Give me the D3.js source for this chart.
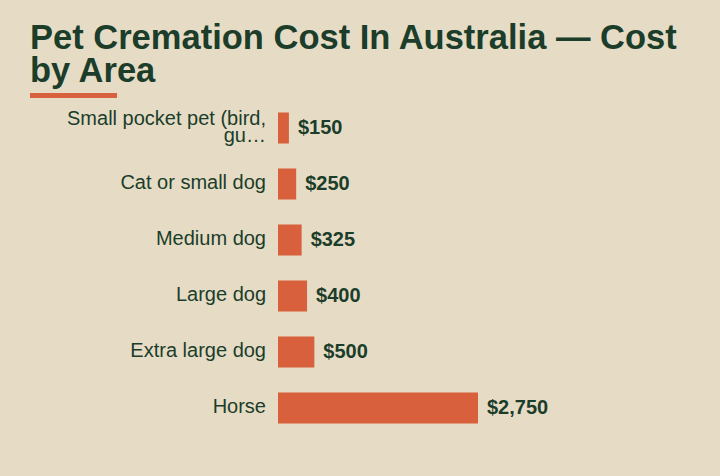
<!DOCTYPE html>
<html>
<head>
<meta charset="utf-8">
<script src="https://cdn.jsdelivr.net/npm/d3@7"></script>
<style>
  html, body { margin: 0; padding: 0; background: #e6dcc6; }
  svg { display: block; font-family: "Liberation Sans", Arial, sans-serif; }
</style>
</head>
<body>
<div id="chart"></div>
<script>
/* DATA */
const categories = [
  "Small pocket pet (bird, guinea pig)",
  "Cat or small dog",
  "Medium dog",
  "Large dog",
  "Extra large dog",
  "Horse"
];
const costs = [150, 250, 325, 400, 500, 2750];
const titleLines = ["Pet Cremation Cost In Australia \u2014 Cost", "by Area"];

/* CONSTANTS */
const width = 720,
  height = 476,
  margin = { top: 100, left: 278, right: 242, bottom: 24 };
const ink = "#1b3d2a",
  accent = "#d9603d";

const svg = d3.select("#chart")
  .append("svg")
  .attr("width", width)
  .attr("height", height);

svg.append("rect")
  .attr("width", width)
  .attr("height", height)
  .attr("fill", "#e6dcc6");

// title
svg.append("text")
  .attr("x", 30)
  .attr("y", 49)
  .attr("fill", ink)
  .attr("font-size", 34.5)
  .attr("font-weight", "bold")
  .selectAll("tspan")
  .data(titleLines)
  .join("tspan")
  .attr("x", 30)
  .attr("dy", (d, i) => i === 0 ? 0 : 33)
  .text(d => d);

svg.append("rect")
  .attr("x", 30)
  .attr("y", 93)
  .attr("width", 87)
  .attr("height", 5)
  .attr("fill", accent);

// scales
const xScale = d3.scaleLinear()
  .domain([0, d3.max(costs)])
  .range([margin.left, width - margin.right]);

const yScale = d3.scaleBand()
  .domain(categories)
  .range([margin.top, margin.top + 56 * categories.length])
  .paddingInner(0.446)
  .paddingOuter(0.223);

const rows = categories.map((c, i) => ({ name: c, cost: costs[i] }));

// bars
svg.selectAll("rect.bar")
  .data(rows)
  .join("rect")
  .attr("class", "bar")
  .attr("x", xScale(0))
  .attr("y", d => yScale(d.name))
  .attr("width", d => xScale(d.cost) - xScale(0))
  .attr("height", yScale.bandwidth())
  .attr("fill", accent);

// value labels
svg.selectAll("text.value")
  .data(rows)
  .join("text")
  .attr("class", "value")
  .attr("x", d => xScale(d.cost) + 9)
  .attr("y", d => yScale(d.name) + yScale.bandwidth() / 2)
  .attr("dy", "0.3em")
  .attr("fill", ink)
  .attr("font-size", 20)
  .attr("font-weight", "bold")
  .text(d => d3.format("$,")(d.cost));

// category labels (long ones wrap to two lines, then truncate)
const yAxis = d3.axisLeft(yScale).tickSize(0).tickPadding(12);
const axisG = svg.append("g")
  .attr("transform", `translate(${margin.left},0)`)
  .call(yAxis);
axisG.select(".domain").remove();
axisG.selectAll(".tick text")
  .attr("fill", ink)
  .attr("font-size", 20)
  .attr("font-family", "Liberation Sans, Arial, sans-serif")
  .attr("dy", null)
  .each(function(d) {
    const t = d3.select(this);
    const lines = d.length > 24 ? ["Small pocket pet (bird,", "gu\u2026"] : [d];
    t.text(null);
    const x = t.attr("x");
    lines.forEach((line, i) => {
      t.append("tspan")
        .attr("x", x)
        .attr("y", lines.length > 1 ? (i === 0 ? -3.5 : 13.5) : 4.5)
        .text(line);
    });
  });
</script>
</body>
</html>
